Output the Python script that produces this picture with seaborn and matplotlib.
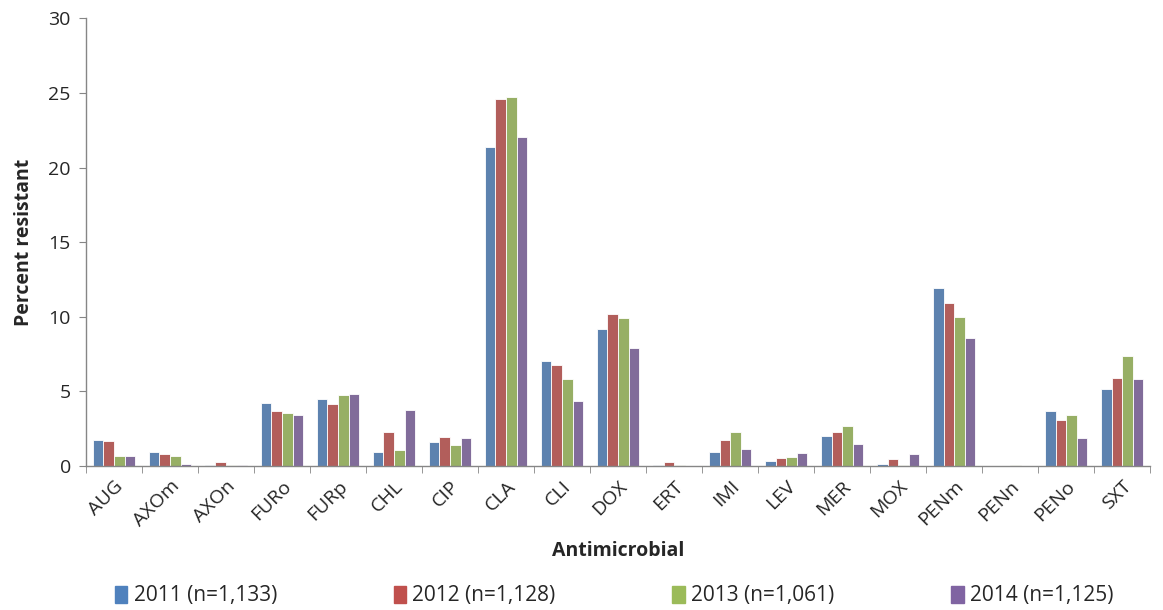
import matplotlib
matplotlib.use("Agg")
import matplotlib.pyplot as plt
import seaborn as sns
import pandas as pd
import numpy as np

# Datos
antimicrobials = ["AUG", "AXOm", "AXOn", "FURo", "FURp", "CHL", "CIP", "CLA", "CLI", "DOX",
                  "ERT", "IMI", "LEV", "MER", "MOX", "PENm", "PENn", "PENo", "SXT"]
years = ["2011 (n=1,133)", "2012 (n=1,128)", "2013 (n=1,061)", "2014 (n=1,125)"]
v2011 = [1.75, 0.95, 0.05, 4.25, 4.5, 0.95, 1.6, 21.35, 7.05, 9.15,
         0.05, 0.95, 0.35, 2.0, 0.15, 11.9, 0.0, 3.7, 5.15]
v2012 = [1.65, 0.8, 0.25, 3.7, 4.15, 2.3, 1.95, 24.6, 6.75, 10.2,
         0.25, 1.75, 0.55, 2.3, 0.45, 10.9, 0.0, 3.1, 5.9]
v2013 = [0.65, 0.65, 0.05, 3.55, 4.75, 1.05, 1.4, 24.75, 5.85, 9.9,
         0.05, 2.25, 0.6, 2.65, 0.05, 10.0, 0.05, 3.4, 7.35]
v2014 = [0.7, 0.15, 0.05, 3.45, 4.8, 3.75, 1.85, 22.05, 4.35, 7.9,
         0.0, 1.15, 0.9, 1.5, 0.8, 8.6, 0.0, 1.85, 5.8]
colors = ["#4F81BD", "#C0504D", "#9BBB59", "#8064A2"]

df = pd.DataFrame({
    "Antimicrobial": antimicrobials * 4,
    "Year": np.repeat(years, len(antimicrobials)),
    "Percent": v2011 + v2012 + v2013 + v2014,
})

sns.set_style("white")
plt.rcParams["font.family"] = ["Open Sans", "DejaVu Sans"]

fig = plt.figure(figsize=(11.63, 6.10), dpi=100)
ax = fig.add_axes([0.074, 0.236, 0.915, 0.734])
sns.barplot(data=df, x="Antimicrobial", y="Percent", hue="Year", palette=colors,
            width=0.76, gap=0, edgecolor="white", linewidth=0.6, ax=ax, legend=False)

ax.set_ylim(0, 30)
ax.set_xlim(-0.5, len(antimicrobials) - 0.5)
ax.set_yticks(range(0, 31, 5))
ax.tick_params(axis="y", labelsize=14, length=5, color="#868686", direction="out", left=True, pad=6)
ax.set_xticks(range(len(antimicrobials)))
ax.set_xticklabels(antimicrobials, rotation=45, ha="right", rotation_mode="anchor", fontsize=14)
ax.tick_params(axis="x", length=0, pad=8)
ax.set_xticks(np.arange(-0.5, len(antimicrobials)), minor=True)
ax.tick_params(axis="x", which="minor", length=5, color="#868686", direction="out", bottom=True)

for s in ["top", "right"]:
    ax.spines[s].set_visible(False)
for s in ["left", "bottom"]:
    ax.spines[s].set_color("#868686")
    ax.spines[s].set_linewidth(1)

ax.set_ylabel("Percent resistant", fontsize=14, fontweight="bold", labelpad=10)
ax.set_xlabel("Antimicrobial", fontsize=14, fontweight="bold", labelpad=8)

handles = [plt.Rectangle((0, 0), 1, 1, color=c) for c in colors]
fig.legend(handles, years, loc="lower center", ncol=4, frameon=False, fontsize=15,
           handlelength=0.6, handleheight=0.9, handletextpad=0.3, columnspacing=5.6,
           bbox_to_anchor=(0.528, -0.025))

fig.savefig("out.png", dpi=100)
